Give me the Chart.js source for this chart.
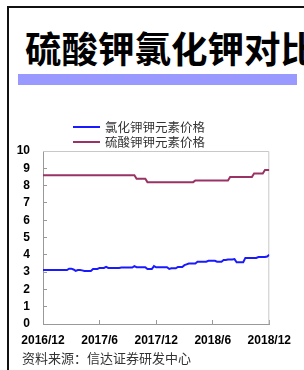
<!DOCTYPE html>
<html>
<head>
<meta charset="utf-8">
<script src="https://cdn.jsdelivr.net/npm/chart.js@4/dist/chart.umd.min.js"></script>
<style>
  html, body { margin: 0; padding: 0; background: #fff; }
  body { width: 304px; height: 370px; position: relative; overflow: hidden; font-family: "Noto Sans CJK SC", sans-serif; }
  #frameLeft { position: absolute; left: 7px; top: 6px; width: 2px; height: 364px; background: #111; }
  #frameTop { position: absolute; left: 7px; top: 6px; width: 297px; height: 2px; background: #111; }
  #title { position: absolute; left: 25px; top: 26px; font-size: 36.5px; font-weight: 700; color: #000; white-space: nowrap; line-height: 44px; }
  #bar { position: absolute; left: 18px; top: 74px; width: 279px; height: 11px; background: #9999ff; }
  #source { position: absolute; left: 22px; top: 349px; font-size: 13px; color: #333; white-space: nowrap; line-height: 18px; }
  #chart { position: absolute; left: 0; top: 110px; }
</style>
</head>
<body>
<div id="frameLeft"></div>
<div id="frameTop"></div>
<div id="title">硫酸钾氯化钾对比</div>
<div id="bar"></div>
<canvas id="chart" width="304" height="240"></canvas>
<div id="source">资料来源：信达证券研发中心</div>
<script>
// weekly prices, 2016/12 -> 2018/12
const seriesNames = ['氯化钾钾元素价格', '硫酸钾钾元素价格'];
const kclValues = [
    3.12, 3.12, 3.12, 3.12, 3.12, 3.12, 3.12, 3.12, 3.12, 3.12, 3.12, 3.12,
    3.2, 3.2, 3.15, 3.07, 3.12, 3.12, 3.1,
    3.07, 3.07, 3.07, 3.07,
    3.18, 3.18, 3.18,
    3.24, 3.24, 3.24, 3.3,
    3.24, 3.24, 3.24, 3.24, 3.24, 3.24,
    3.26, 3.26, 3.26, 3.26, 3.26, 3.26, 3.34,
    3.28, 3.28, 3.28, 3.28, 3.28,
    3.18, 3.18, 3.18, 3.35,
    3.28, 3.28, 3.28, 3.28, 3.28, 3.28, 3.18,
    3.22, 3.22, 3.22, 3.3, 3.3, 3.3, 3.4, 3.45,
    3.5, 3.5, 3.5, 3.5,
    3.6, 3.6, 3.6, 3.6, 3.6,
    3.65, 3.65, 3.65, 3.65,
    3.6, 3.6, 3.6, 3.7, 3.7,
    3.73, 3.73, 3.73, 3.75,
    3.57, 3.57, 3.57, 3.57,
    3.82, 3.82, 3.82, 3.82, 3.82, 3.82,
    3.87, 3.87, 3.87, 3.87, 3.9, 4.0
];
const k2so4Values = [
    8.6, 8.6, 8.6, 8.6, 8.6, 8.6, 8.6, 8.6, 8.6, 8.6,
    8.6, 8.6, 8.6, 8.6, 8.6, 8.6, 8.6, 8.6, 8.6, 8.6,
    8.6, 8.6, 8.6, 8.6, 8.6, 8.6, 8.6, 8.6, 8.6, 8.6,
    8.6, 8.6, 8.6, 8.6, 8.6, 8.6, 8.6, 8.6, 8.6, 8.6,
    8.6, 8.6, 8.6,
    8.4, 8.4, 8.4, 8.4, 8.4,
    8.2, 8.2, 8.2, 8.2, 8.2, 8.2, 8.2, 8.2, 8.2, 8.2, 8.2,
    8.2, 8.2, 8.2, 8.2, 8.2, 8.2, 8.2, 8.2, 8.2, 8.2, 8.2,
    8.3, 8.3, 8.3, 8.3, 8.3, 8.3, 8.3, 8.3,
    8.3, 8.3, 8.3, 8.3, 8.3, 8.3, 8.3, 8.3,
    8.5, 8.5, 8.5, 8.5, 8.5, 8.5, 8.5, 8.5, 8.5, 8.5, 8.5,
    8.7, 8.7, 8.7, 8.7, 8.7,
    8.9, 8.9, 8.9
];
const tickWeeks = [0, 26, 52, 78, 104];
const tickLabels = ['2016/12', '2017/6', '2017/12', '2018/6', '2018/12'];
const colors = ['#1a1aff', '#993366'];

const tickFont = { family: '"Liberation Sans", Arial, sans-serif', size: 12, weight: 'bold' };

// light box on top/right of the plot
const plotFrame = {
    id: 'plotFrame',
    beforeDatasetsDraw(chart) {
        const a = chart.chartArea;
        const ctx = chart.ctx;
        ctx.save();
        ctx.strokeStyle = '#c8c8c8';
        ctx.lineWidth = 1;
        ctx.beginPath();
        ctx.moveTo(a.left, a.top + 0.5);
        ctx.lineTo(a.right - 0.5, a.top + 0.5);
        ctx.lineTo(a.right - 0.5, a.bottom);
        ctx.stroke();
        ctx.restore();
    }
};

// stacked legend above the plot
const lineLegend = {
    id: 'lineLegend',
    afterDraw(chart) {
        const ctx = chart.ctx;
        ctx.save();
        ctx.font = '12.5px "Noto Sans CJK SC", sans-serif';
        ctx.textBaseline = 'middle';
        chart.data.datasets.forEach((ds, i) => {
            const y = 17 + i * 15;
            ctx.strokeStyle = ds.borderColor;
            ctx.lineWidth = 2;
            ctx.beginPath();
            ctx.moveTo(73, y);
            ctx.lineTo(100, y);
            ctx.stroke();
            ctx.fillStyle = '#333';
            ctx.fillText(ds.label, 105, y);
        });
        ctx.restore();
    }
};

new Chart(document.getElementById('chart'), {
    type: 'line',
    data: {
        datasets: [{
            label: seriesNames[0],
            data: kclValues.map((v, i) => ({ x: i, y: v })),
            borderColor: colors[0],
            borderWidth: 2,
            pointRadius: 0,
            tension: 0
        }, {
            label: seriesNames[1],
            data: k2so4Values.map((v, i) => ({ x: i, y: v })),
            borderColor: colors[1],
            borderWidth: 2,
            pointRadius: 0,
            tension: 0
        }]
    },
    options: {
        responsive: false,
        animation: false,
        layout: { padding: { left: 0, top: 41, right: 28, bottom: 0 } },
        plugins: {
            legend: { display: false },
            tooltip: { enabled: false }
        },
        scales: {
            x: {
                type: 'linear',
                min: 0,
                max: 104,
                afterBuildTicks: (scale) => { scale.ticks = tickWeeks.map(v => ({ value: v })); },
                afterFit: (scale) => { scale.height = 26; },
                ticks: {
                    callback: (v, i) => tickLabels[i],
                    font: tickFont,
                    color: '#000',
                    padding: 13,
                    maxRotation: 0,
                    autoSkip: false
                },
                grid: { drawOnChartArea: false, tickLength: -4, color: '#999' },
                border: { color: '#999', width: 1 }
            },
            y: {
                min: 0,
                max: 10,
                afterFit: (scale) => { scale.width = 43; },
                ticks: {
                    stepSize: 1,
                    autoSkip: false,
                    font: tickFont,
                    color: '#000',
                    padding: 17
                },
                grid: { drawOnChartArea: false, tickLength: -4, color: '#999' },
                border: { color: '#999', width: 1 }
            }
        }
    },
    plugins: [plotFrame, lineLegend]
});
</script>
</body>
</html>
